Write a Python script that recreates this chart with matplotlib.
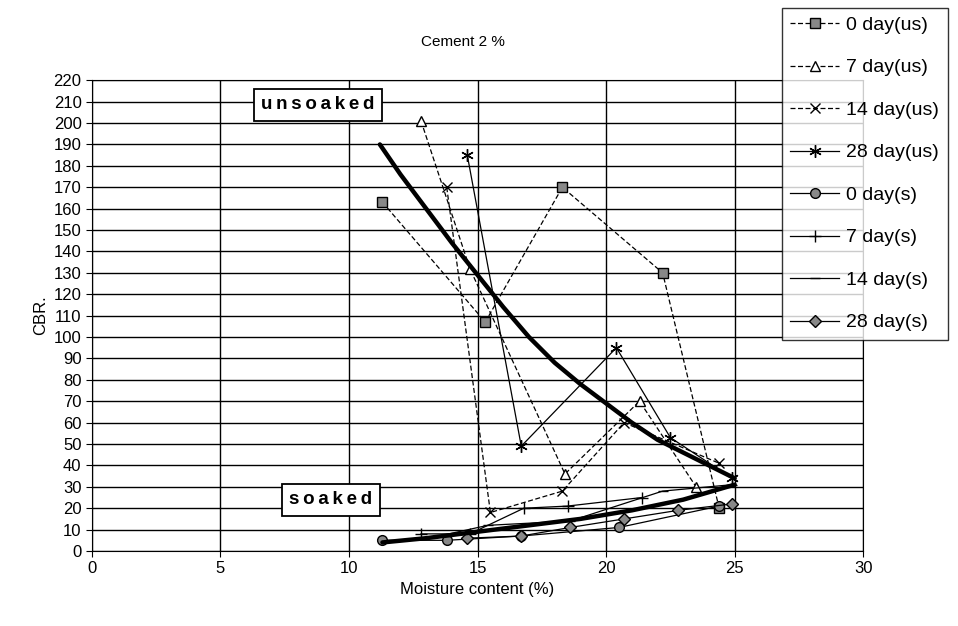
import matplotlib
matplotlib.use("Agg")
import matplotlib.pyplot as plt

plt.rcParams['font.family'] = ['Liberation Sans', 'DejaVu Sans']

# ==========================
# data
# ==========================
us0_x = [11.3, 15.3, 18.3, 22.2, 24.4]
us0_y = [163, 107, 170, 130, 20]
us7_x = [12.8, 14.7, 18.4, 21.3, 23.5]
us7_y = [201, 132, 36, 70, 30]
us14_x = [13.8, 15.5, 18.3, 20.7, 24.4]
us14_y = [170, 18, 28, 60, 41]
us28_x = [14.6, 16.7, 20.4, 22.5, 24.9]
us28_y = [185, 49, 95, 53, 34]

s0_x = [11.3, 13.8, 16.7, 20.5, 24.4]
s0_y = [5, 5, 7, 11, 21]
s7_x = [12.8, 14.7, 16.8, 18.5, 21.4]
s7_y = [8, 8, 20, 21, 25]
s14_x = [13.5, 15.4, 18.6, 22.2, 24.9]
s14_y = [7, 12, 14, 28, 31]
s28_x = [14.6, 16.7, 18.6, 20.7, 22.8, 24.9]
s28_y = [6, 7, 11, 15, 19, 22]

# thick trend curves
trend_us_x = [11.2, 12, 13, 14, 15, 16, 17, 18, 19, 20, 21, 22, 23, 24, 25]
trend_us_y = [190, 176, 160, 144, 129, 114, 100, 88, 78, 69, 60, 52, 46, 40, 34]
trend_s_x = [11.3, 13, 15, 17, 19, 21, 23, 25]
trend_s_y = [4, 6, 9, 12, 15, 19, 24, 31]

labels = ["0 day(us)", "7 day(us)", "14 day(us)", "28 day(us)",
          "0 day(s)", "7 day(s)", "14 day(s)", "28 day(s)"]

# ==========================
# plot
# ==========================
fig = plt.figure(figsize=(9.58, 6.26), dpi=100)
ax = fig.add_axes([0.096, 0.1198, 0.805, 0.752])

lw = 0.9
ms = 7
dash = (0, (4, 2))
handles = []
h, = ax.plot(us0_x, us0_y, ls=dash, color="black", lw=lw, marker="s", ms=ms,
             mfc="#888888", mec="black")
handles.append(h)
h, = ax.plot(us7_x, us7_y, ls=dash, color="black", lw=lw, marker="^", ms=ms,
             mfc="white", mec="black")
handles.append(h)
h, = ax.plot(us14_x, us14_y, ls=dash, color="black", lw=lw, marker="x", ms=ms,
             mec="black")
handles.append(h)
h, = ax.plot(us28_x, us28_y, ls="-", color="black", lw=lw, marker=(6, 2, 0), ms=ms + 2,
             mec="black")
handles.append(h)
h, = ax.plot(s0_x, s0_y, ls="-", color="black", lw=lw, marker="o", ms=ms,
             mfc="#888888", mec="black")
handles.append(h)
h, = ax.plot(s7_x, s7_y, ls="-", color="black", lw=lw, marker="+", ms=ms + 2,
             mec="black")
handles.append(h)
h, = ax.plot(s14_x, s14_y, ls="-", color="black", lw=lw, marker="_", ms=ms,
             mec="black")
handles.append(h)
h, = ax.plot(s28_x, s28_y, ls="-", color="black", lw=lw, marker="D", ms=ms - 1,
             mfc="#888888", mec="black")
handles.append(h)

ax.plot(trend_us_x, trend_us_y, color="black", lw=3.2, solid_capstyle="round")
ax.plot(trend_s_x, trend_s_y, color="black", lw=3.2, solid_capstyle="round")

ax.set_xlim(0, 30)
ax.set_ylim(0, 220)
ax.set_xticks(range(0, 31, 5))
ax.set_yticks(range(0, 221, 10))
ax.grid(True, color="black", lw=1.0)
ax.set_axisbelow(True)
ax.tick_params(labelsize=12, direction="out", length=4, color="black")
for sp in ax.spines.values():
    sp.set_color("black")

ax.set_xlabel("Moisture content (%)", fontsize=12)
ax.set_ylabel("CBR.", fontsize=12, labelpad=4)
fig.text(0.483, 0.933, "Cement 2 %", ha="center", va="center", fontsize=11)

box = dict(boxstyle="square,pad=0.4", fc="white", ec="black", lw=1.3)
sp_ = "\u2009"
ax.text(8.8, 208.5, sp_.join("unsoaked"), ha="center", va="center", fontsize=13.5,
        fontweight="bold", bbox=box)
ax.text(9.3, 24, sp_.join("soaked"), ha="center", va="center", fontsize=13.5,
        fontweight="bold", bbox=box)

leg = fig.legend(handles, labels, loc="upper left", bbox_to_anchor=(0.816, 0.988),
                 fontsize=14, frameon=True, fancybox=False, edgecolor="black",
                 labelspacing=1.28, handlelength=2.5, handletextpad=0.35,
                 borderpad=0.45, borderaxespad=0.0)
leg.get_frame().set_linewidth(1.0)

plt.savefig("out.png", dpi=100)
